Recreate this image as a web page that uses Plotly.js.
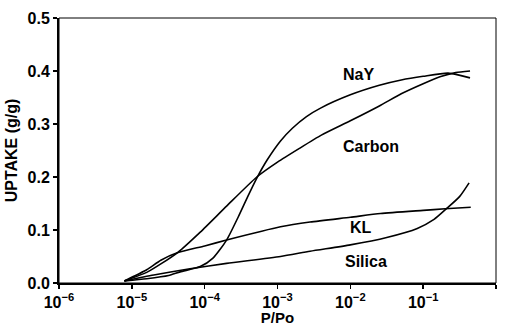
<!DOCTYPE html>
<html><head><meta charset="utf-8">
<script src="https://cdn.plot.ly/plotly-3.0.1.min.js"></script>
<style>html,body{margin:0;padding:0;background:#fff}#chart{width:506px;height:326px}</style>
</head><body><div id="chart"></div>
<script>
// Tick labels
const xTickVals = [1e-6, 1e-5, 1e-4, 1e-3, 1e-2, 1e-1, 1];
const xTickText = ['10<sup>−6</sup>', '10<sup>−5</sup>', '10<sup>−4</sup>', '10<sup>−3</sup>', '10<sup>−2</sup>', '10<sup>−1</sup>', '10<sup>0</sup>'];
const yTickVals = [0, 0.1, 0.2, 0.3, 0.4, 0.5];
const yTickText = ['0.0', '0.1', '0.2', '0.3', '0.4', '0.5'];

// Series (P/Po, uptake g/g)
const nayX = [7.9e-6, 1.6e-5, 3.2e-5, 4.6e-5, 8.7e-5, 1.3e-4, 2.0e-4, 2.9e-4, 3.9e-4, 5.2e-4, 7.2e-4, 1.1e-3, 1.6e-3, 2.5e-3, 3.9e-3, 1e-2, 2.5e-2, 5e-2, 0.1, 0.22, 0.44];
const nayY = [0.004, 0.008, 0.014, 0.021, 0.031, 0.047, 0.081, 0.125, 0.163, 0.198, 0.232, 0.268, 0.292, 0.314, 0.330, 0.355, 0.373, 0.383, 0.39, 0.396, 0.387];

const carbonX = [7.9e-6, 1.6e-5, 2.5e-5, 4.3e-5, 8.7e-5, 2.0e-4, 5.2e-4, 1e-3, 2e-3, 4e-3, 1e-2, 2.5e-2, 5e-2, 0.1, 0.17, 0.28, 0.44];
const carbonY = [0.004, 0.02, 0.036, 0.058, 0.096, 0.145, 0.2, 0.228, 0.254, 0.279, 0.306, 0.334, 0.357, 0.376, 0.389, 0.397, 0.4];

const klX = [7.9e-6, 1.6e-5, 2.5e-5, 4.2e-5, 1e-4, 2e-4, 1.1e-3, 2.8e-3, 1e-2, 2.6e-2, 0.1, 0.2, 0.45];
const klY = [0.004, 0.025, 0.043, 0.057, 0.07, 0.081, 0.106, 0.115, 0.124, 0.131, 0.137, 0.14, 0.143];

const silicaX = [7.9e-6, 2e-5, 6.3e-5, 2e-4, 1.1e-3, 2.8e-3, 1e-2, 3.16e-2, 8.3e-2, 0.141, 0.204, 0.316, 0.427];
const silicaY = [0.004, 0.015, 0.027, 0.037, 0.05, 0.06, 0.072, 0.086, 0.103, 0.12, 0.139, 0.163, 0.189];

// Curve labels
const labelText = ['NaY', 'Carbon', 'KL', 'Silica'];
const labelX = [0.013, 0.019, 0.0138, 0.0162];
const labelY = [0.394, 0.258, 0.104, 0.04];

const lineStyle = {color: '#000', width: 1.6, shape: 'spline', smoothing: 0.6};
const series = [[nayX, nayY, 'NaY'], [carbonX, carbonY, 'Carbon'], [klX, klY, 'KL'], [silicaX, silicaY, 'Silica']];
const traces = series.map(s => ({x: s[0], y: s[1], name: s[2], type: 'scatter', mode: 'lines', line: lineStyle, hoverinfo: 'skip'}));

const fam = '"Liberation Sans", Arial, Helvetica, sans-serif';
const font = {family: fam, color: '#000'};
const bold = t => '<b>' + t + '</b>';
const annotations = labelText.map((t, i) => ({
  x: Math.log10(labelX[i]), y: labelY[i], xref: 'x', yref: 'y', text: bold(t),
  showarrow: false, font: Object.assign({size: 16}, font)
}));

const layout = {
  width: 506, height: 326,
  margin: {l: 59, r: 10, t: 18, b: 43},
  paper_bgcolor: '#fff', plot_bgcolor: '#fff',
  showlegend: false,
  font: Object.assign({size: 16}, font),
  xaxis: {
    type: 'log', range: [-6, 0], tickvals: xTickVals, ticktext: xTickText.map(bold),
    showgrid: false, zeroline: false, showline: true, linecolor: '#000', linewidth: 2,
    ticks: 'outside', ticklen: 4, tickwidth: 1.5, tickcolor: '#000',
    tickfont: Object.assign({size: 16, weight: 700}, font),
    title: {text: bold('P/Po'), font: Object.assign({size: 15}, font), standoff: 6}
  },
  yaxis: {
    range: [0, 0.5], tickvals: yTickVals, ticktext: yTickText.map(bold),
    showgrid: false, zeroline: false, showline: true, linecolor: '#000', linewidth: 2,
    ticks: 'outside', ticklen: 4, tickwidth: 1.5, tickcolor: '#000',
    tickfont: Object.assign({size: 16, weight: 700}, font),
    title: {text: bold('UPTAKE (g/g)'), font: Object.assign({size: 16}, font), standoff: 6}
  },
  shapes: [{type: 'rect', xref: 'paper', yref: 'paper', x0: 0, x1: 1, y0: 0, y1: 1, line: {color: '#000', width: 1}}],
  annotations: annotations
};

Plotly.newPlot('chart', traces, layout, {displayModeBar: false, staticPlot: true});
</script>
</body></html>
